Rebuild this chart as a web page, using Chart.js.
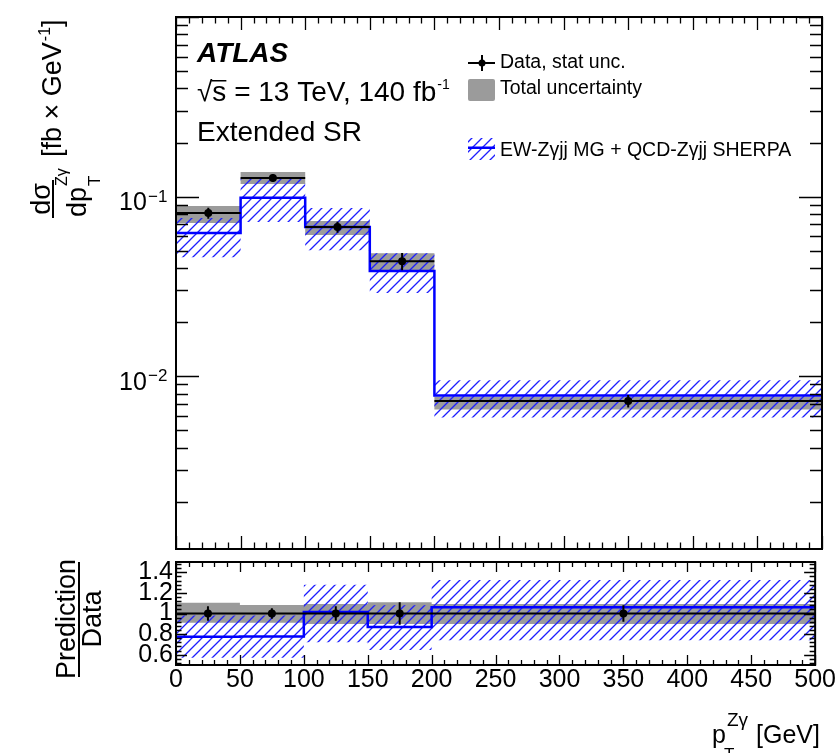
<!DOCTYPE html>
<html>
<head>
<meta charset="utf-8">
<script src="https://cdn.jsdelivr.net/npm/chart.js@4.4.1/dist/chart.umd.min.js"></script>
<style>
  html, body { margin: 0; padding: 0; background: #fff; }
  #wrap { position: relative; width: 836px; height: 753px; }
  canvas { position: absolute; left: 0; top: 0; }
</style>
</head>
<body>
<div id="wrap">
  <canvas id="main" width="836" height="753"></canvas>
  <canvas id="ratio" width="836" height="753"></canvas>
</div>
<script>
// bins in pT(Z gamma) [GeV]
const binEdges = [0, 50, 100, 150, 200, 500];
const binCenters = [25, 75, 125, 175, 350];

// main panel, d sigma / d pT [fb/GeV]
const dataXsec = [0.0809, 0.1268, 0.0676, 0.0437, 0.00728];
const dataStatUp = [0.0866, 0.1330, 0.0723, 0.0485, 0.00786];
const dataStatDown = [0.0752, 0.1205, 0.0629, 0.0389, 0.00670];
const totalUp = [0.0885, 0.1370, 0.0730, 0.0484, 0.00767];
const totalDown = [0.0712, 0.1175, 0.0610, 0.0385, 0.00652];
const predXsec = [0.0627, 0.0985, 0.0676, 0.0385, 0.00780];
const predUp = [0.0759, 0.1268, 0.0863, 0.0484, 0.00950];
const predDown = [0.0460, 0.0722, 0.0503, 0.0290, 0.00589];

// ratio panel, prediction / data
const ratioData = [1, 1, 1, 1, 1];
const ratioStatUp = [1.07, 1.05, 1.07, 1.11, 1.08];
const ratioStatDown = [0.93, 0.95, 0.93, 0.89, 0.92];
const ratioTotUp = [1.105, 1.083, 1.092, 1.109, 1.092];
const ratioTotDown = [0.91, 0.91, 0.898, 0.898, 0.898];
const ratioPred = [0.775, 0.777, 1.015, 0.87, 1.06];
const ratioPredUp = [0.98, 0.98, 1.28, 1.08, 1.325];
const ratioPredDown = [0.57, 0.57, 0.72, 0.645, 0.74];

// axis ticks
const xMajorTicks = [0, 50, 100, 150, 200, 250, 300, 350, 400, 450, 500];
const ratioTicks = [0.6, 0.8, 1, 1.2, 1.4];
const logLabels = [[0.1, '\u22121'], [0.01, '\u22122']];

const FONT = '"Liberation Sans", Arimo, Arial, Helvetica, sans-serif';
const gray = 'rgb(155,155,155)';
const blue = '#0000ff';
Chart.defaults.font.family = FONT;

function makeHatch(ctx) {
  const c = document.createElement('canvas');
  c.width = 10; c.height = 10;
  const g = c.getContext('2d');
  g.strokeStyle = 'rgb(30,30,255)';
  g.lineWidth = 1.3;
  g.beginPath();
  g.moveTo(0, 10); g.lineTo(10, 0);
  g.moveTo(-1, 1); g.lineTo(1, -1);
  g.moveTo(9, 11); g.lineTo(11, 9);
  g.stroke();
  return ctx.createPattern(c, 'repeat');
}

function steps(vals) {
  return binEdges.map((x, i) => ({ x: x, y: vals[Math.min(i, vals.length - 1)] }));
}
function flats(vals) {
  const pts = [];
  vals.forEach((v, i) => {
    pts.push({ x: binEdges[i], y: v }, { x: binEdges[i + 1], y: v }, { x: binEdges[i + 1], y: null });
  });
  return pts;
}
function errBars(lo, hi) {
  const pts = [];
  binCenters.forEach((x, i) => {
    pts.push({ x: x, y: lo[i] }, { x: x, y: hi[i] }, { x: x, y: null });
  });
  return pts;
}

const none = 'rgba(0,0,0,0)';
function buildDatasets(p, hatch) {
  return [
    { data: binCenters.map((x, i) => ({ x: x, y: p.data[i] })), showLine: false,
      pointRadius: 4, pointBackgroundColor: '#000', pointBorderWidth: 0, order: 0 },
    { data: flats(p.data), borderColor: '#000', borderWidth: 2, pointRadius: 0, order: 1 },
    { data: errBars(p.statDown, p.statUp), borderColor: '#000', borderWidth: 2, pointRadius: 0, order: 1 },
    { data: steps(p.pred), borderColor: blue, borderWidth: 2.5, stepped: true, pointRadius: 0, order: 2 },
    { data: steps(p.predUp), borderColor: none, borderWidth: 1, stepped: true, pointRadius: 0, order: 3 },
    { data: steps(p.predDown), borderColor: none, borderWidth: 1, stepped: true, pointRadius: 0,
      fill: '-1', backgroundColor: hatch, order: 3 },
    { data: steps(p.totUp), borderColor: none, borderWidth: 1, stepped: true, pointRadius: 0, order: 4 },
    { data: steps(p.totDown), borderColor: none, borderWidth: 1, stepped: true, pointRadius: 0,
      fill: '-1', backgroundColor: gray, order: 4 }
  ];
}

// ROOT style frame with inner ticks on all sides
function drawFrame(chart, xTicks, yTicks) {
  const ctx = chart.ctx, a = chart.chartArea;
  const x = chart.scales.x, y = chart.scales.y;
  ctx.save();
  ctx.strokeStyle = '#000';
  ctx.lineWidth = 1.3;
  ctx.beginPath();
  xTicks.forEach(t => {
    const px = Math.round(x.getPixelForValue(t[0])) + 0.5;
    ctx.moveTo(px, a.bottom); ctx.lineTo(px, a.bottom - t[1]);
    ctx.moveTo(px, a.top); ctx.lineTo(px, a.top + t[1]);
  });
  yTicks.forEach(t => {
    const py = Math.round(y.getPixelForValue(t[0])) + 0.5;
    ctx.moveTo(a.left, py); ctx.lineTo(a.left + t[1], py);
    ctx.moveTo(a.right, py); ctx.lineTo(a.right - t[1], py);
  });
  ctx.stroke();
  ctx.lineWidth = 2;
  ctx.strokeRect(a.left, a.top, a.right - a.left, a.bottom - a.top);
  ctx.restore();
}

function xTickList(major, minor) {
  const out = [];
  for (let v = 0; v <= 500; v += 10) out.push([v, v % 50 === 0 ? major : minor]);
  return out;
}

function rotText(ctx, str, font, bx, y, align) {
  ctx.save();
  ctx.font = font;
  ctx.textAlign = align || 'left';
  ctx.textBaseline = 'alphabetic';
  ctx.translate(bx, y);
  ctx.rotate(-Math.PI / 2);
  ctx.fillText(str, 0, 0);
  const w = ctx.measureText(str).width;
  ctx.restore();
  return w;
}

const mainCtx = document.getElementById('main').getContext('2d');
const ratioCtx = document.getElementById('ratio').getContext('2d');

const mainDecor = {
  id: 'mainDecor',
  afterDraw(chart) {
    const ctx = chart.ctx, y = chart.scales.y;
    const yTicks = [[1, 23]];
    [0.001, 0.01, 0.1].forEach(d => {
      for (let m = 1; m <= 9; m++) {
        const v = m * d;
        if (v >= y.min && v <= y.max) yTicks.push([v, m === 1 ? 23 : 12]);
      }
    });
    drawFrame(chart, xTickList(13, 6.5), yTicks);

    ctx.save();
    ctx.fillStyle = '#000';
    ctx.textBaseline = 'alphabetic';
    ctx.textAlign = 'left';
    // y tick labels 10^n
    logLabels.forEach(l => {
      const py = y.getPixelForValue(l[0]);
      ctx.font = '25px ' + FONT;
      ctx.fillText('10', 119, py + 13.5);
      ctx.font = '17px ' + FONT;
      ctx.fillText(l[1], 148, py + 5);
    });

    // labels
    ctx.font = 'italic bold 28px ' + FONT;
    ctx.fillText('ATLAS', 197, 62);
    ctx.font = '28px ' + FONT;
    let x0 = 197;
    ctx.fillText('\u221A', x0, 101);
    x0 += ctx.measureText('\u221A').width;
    const sw = ctx.measureText('s').width;
    ctx.fillText('s', x0, 101);
    ctx.fillRect(x0 - 1, 80, sw + 1, 1.5);
    x0 += sw;
    const t1 = ' = 13 TeV, 140 fb';
    ctx.fillText(t1, x0, 101);
    x0 += ctx.measureText(t1).width;
    ctx.font = '14px ' + FONT;
    ctx.fillText('-1', x0 + 1, 89);
    ctx.font = '28px ' + FONT;
    ctx.fillText('Extended SR', 197, 141);

    // legend
    ctx.font = '19.5px ' + FONT;
    ctx.fillRect(468, 62, 27, 2);
    ctx.fillRect(481, 55, 2, 16);
    ctx.beginPath(); ctx.arc(482, 63, 3.5, 0, 2 * Math.PI); ctx.fill();
    ctx.fillText('Data, stat unc.', 500, 67.5);
    ctx.fillStyle = gray;
    ctx.beginPath();
    ctx.roundRect(468, 79, 27, 22, 2);
    ctx.fill();
    ctx.fillStyle = '#000';
    ctx.fillText('Total uncertainty', 500, 93.5);
    ctx.fillStyle = chart.$hatch;
    ctx.fillRect(468, 138, 27, 22);
    ctx.fillStyle = blue;
    ctx.fillRect(468, 146.5, 27, 2.5);
    ctx.fillStyle = '#000';
    ctx.fillText('EW-Z\u03B3jj MG + QCD-Z\u03B3jj SHERPA', 500, 155.5);

    // y title
    rotText(ctx, 'd\u03C3', '27px ' + FONT, 50, 199, 'center');
    ctx.fillRect(52, 180, 2, 38);
    let yy = 217;
    yy -= rotText(ctx, 'dp', '27px ' + FONT, 86, yy);
    rotText(ctx, 'T', '17px ' + FONT, 100, yy - 1);
    rotText(ctx, 'Z\u03B3', '16px ' + FONT, 67, yy - 1);
    yy = 157;
    yy -= rotText(ctx, '[fb \u00D7 GeV', '27px ' + FONT, 61, yy);
    yy -= rotText(ctx, '-1', '16px ' + FONT, 50, yy - 1) + 1;
    rotText(ctx, ']', '27px ' + FONT, 61, yy);
    ctx.restore();
  }
};

const ratioDecor = {
  id: 'ratioDecor',
  afterDraw(chart) {
    const ctx = chart.ctx;
    const yTicks = [];
    for (let k = 13; k <= 37; k++) yTicks.push([k * 0.04, k % 5 === 0 ? 11 : 5.5]);
    drawFrame(chart, xTickList(10, 5), yTicks);

    ctx.save();
    ctx.fillStyle = '#000';
    rotText(ctx, 'Prediction', '27px ' + FONT, 75, 619, 'center');
    ctx.fillRect(78, 562, 2, 115);
    rotText(ctx, 'Data', '27px ' + FONT, 101, 619, 'center');

    ctx.font = '25px ' + FONT;
    ctx.textAlign = 'left';
    ctx.textBaseline = 'alphabetic';
    ctx.fillText('p', 712, 743);
    ctx.font = '17px ' + FONT;
    ctx.fillText('T', 724, 760);
    ctx.font = '19px ' + FONT;
    ctx.fillText('Z\u03B3', 727, 726);
    ctx.font = '25px ' + FONT;
    ctx.fillText('[GeV]', 756, 743);
    ctx.restore();
  }
};

const mainHatch = makeHatch(mainCtx);
const ratioHatch = makeHatch(ratioCtx);

const mainChart = new Chart(mainCtx, {
  type: 'line',
  data: {
    datasets: buildDatasets({ data: dataXsec, statUp: dataStatUp, statDown: dataStatDown,
      totUp: totalUp, totDown: totalDown, pred: predXsec, predUp: predUp, predDown: predDown }, mainHatch)
  },
  options: {
    responsive: false,
    animation: false,
    devicePixelRatio: 1,
    events: [],
    layout: { padding: { left: 176, top: 17, right: 14, bottom: 204 }, autoPadding: false },
    plugins: { legend: { display: false }, tooltip: { enabled: false } },
    scales: {
      x: { type: 'linear', min: 0, max: 500, display: false },
      y: { type: 'logarithmic', min: 0.00109, max: 1, display: false }
    }
  },
  plugins: [mainDecor]
});
mainChart.$hatch = mainHatch;
mainChart.draw();

new Chart(ratioCtx, {
  type: 'line',
  data: {
    datasets: buildDatasets({ data: ratioData, statUp: ratioStatUp, statDown: ratioStatDown,
      totUp: ratioTotUp, totDown: ratioTotDown, pred: ratioPred, predUp: ratioPredUp, predDown: ratioPredDown }, ratioHatch)
  },
  options: {
    responsive: false,
    animation: false,
    devicePixelRatio: 1,
    events: [],
    layout: { padding: { left: 0, top: 562, right: 14, bottom: 0 }, autoPadding: false },
    plugins: { legend: { display: false }, tooltip: { enabled: false } },
    scales: {
      x: {
        type: 'linear', min: 0, max: 500,
        grid: { display: false, drawTicks: false },
        border: { display: false },
        afterBuildTicks: s => { s.ticks = xMajorTicks.map(v => ({ value: v })); },
        afterFit: s => { s.height = 88; },
        ticks: { callback: v => String(v), font: { size: 25 }, color: '#000', padding: 0, maxRotation: 0, autoSkip: false }
      },
      y: {
        type: 'linear', min: 0.5, max: 1.5,
        grid: { display: false, drawTicks: false },
        border: { display: false },
        afterBuildTicks: s => { s.ticks = ratioTicks.map(v => ({ value: v })); },
        afterFit: s => { s.width = 176; },
        ticks: { callback: v => String(Math.round(v * 10) / 10), font: { size: 25 }, color: '#000', padding: 3, autoSkip: false }
      }
    }
  },
  plugins: [ratioDecor]
});
</script>
</body>
</html>
